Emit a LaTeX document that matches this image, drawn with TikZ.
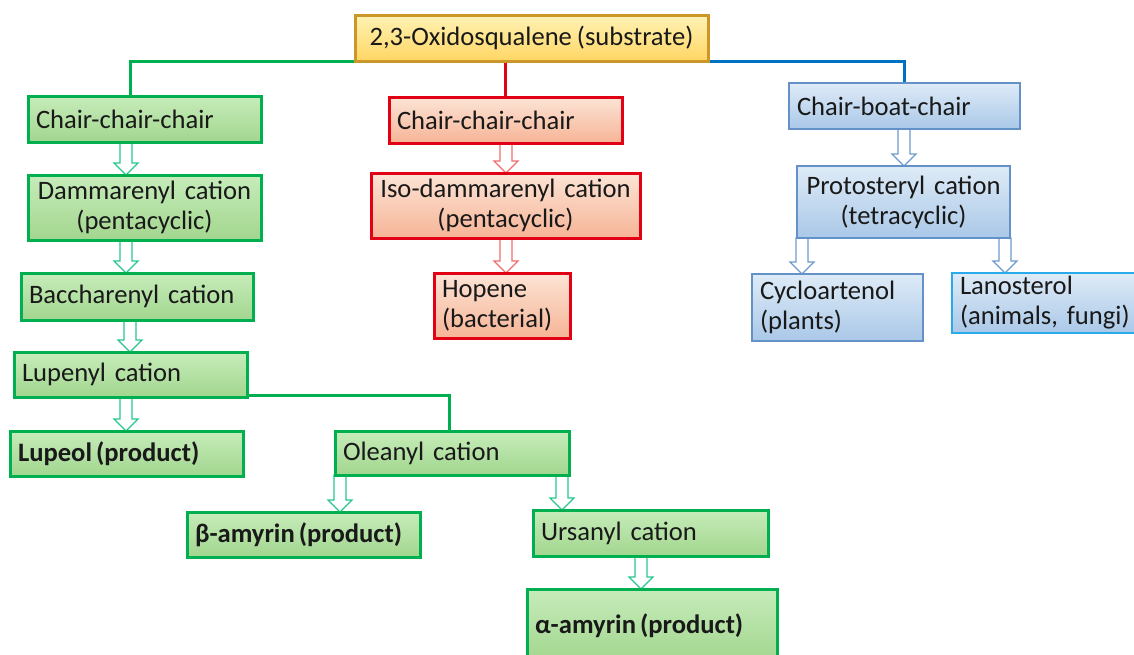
\documentclass[tikz,border=0pt]{standalone}
\usepackage{fontspec}
\setmainfont{Carlito}
\usetikzlibrary{calc,backgrounds}
\definecolor{gline}{RGB}{0,176,80}
\definecolor{gtop}{RGB}{198,236,186}
\definecolor{gbot}{RGB}{162,214,142}
\definecolor{garr}{RGB}{40,200,140}
\definecolor{rline}{RGB}{226,0,20}
\definecolor{rtop}{RGB}{252,228,214}
\definecolor{rbot}{RGB}{246,180,150}
\definecolor{rarr}{RGB}{240,110,110}
\definecolor{bline}{RGB}{0,112,192}
\definecolor{btop}{RGB}{222,235,247}
\definecolor{bbot}{RGB}{170,200,232}
\definecolor{bbord}{RGB}{100,145,200}
\definecolor{lbord}{RGB}{40,170,235}
\definecolor{barr}{RGB}{110,155,205}
\definecolor{ytop}{RGB}{255,242,180}
\definecolor{ybot}{RGB}{255,214,100}
\definecolor{ybord}{RGB}{205,150,40}
\definecolor{txt}{RGB}{25,25,25}
\newcommand\bx[8]{%
 \pgfmathsetmacro\bxw{#5-#3}\pgfmathsetmacro\bxh{#6-#4}\pgfmathsetmacro\bxt{#5-#3-16}%
 \node[#2, anchor=north west, minimum width=\bxw pt, minimum height=\bxh pt, text width=\bxt pt, align=#7] (#1) at (#3,#4) {#8};}
\newcommand\harr[4]{%
 \draw[#1, fill=white, line width=1.2pt, line join=miter] let \p1=(#3.south), \p2=(#4.north) in
 (#2-6,\y1) -- (#2+6,\y1) -- (#2+6,{\y2+12pt}) -- (#2+12,{\y2+12pt}) -- (#2,\y2) -- (#2-12,{\y2+12pt}) -- (#2-6,{\y2+12pt}) -- cycle;}
\tikzset{
 boxbase/.style={inner xsep=8pt, inner ysep=2pt, outer sep=0pt, text=txt},
 gbox/.style={boxbase, draw=gline, line width=3pt, top color=gtop, bottom color=gbot},
 rbox/.style={boxbase, draw=rline, line width=3pt, top color=rtop, bottom color=rbot},
 bbox/.style={boxbase, draw=bbord, line width=1.5pt, top color=btop, bottom color=bbot},
 lbox/.style={boxbase, draw=lbord, line width=1.2pt, top color=btop, bottom color=bbot},
 ybox/.style={boxbase, draw=ybord, line width=3pt, top color=ytop, bottom color=ybot},
 gconn/.style={gline, line width=3pt},
 rconn/.style={rline, line width=3pt},
 bconn/.style={bline, line width=3pt},
}
\begin{document}
\begin{tikzpicture}[x=1pt,y=-1pt,font=\fontsize{26.6}{30}\selectfont]
\useasboundingbox (0,0) rectangle (1134,654);
\clip (0,0) rectangle (1134,654);
\bx{sub}{ybox}{355}{15}{708}{61}{center}{2,3-Oxidosqualene\hspace{5pt}(substrate)}
% green
\bx{gccc}{gbox}{28}{96}{261}{142}{left}{Chair-chair-chair}
\bx{gdam}{gbox}{28}{175}{261}{240}{center}{Dammarenyl cation\\(pentacyclic)}
\bx{gbac}{gbox}{21}{273}{253}{320}{left}{Baccharenyl cation}
\bx{glup}{gbox}{14}{352}{247}{397}{left}{Lupenyl cation}
\bx{glupeol}{gbox}{10}{431}{243}{476}{left}{\bfseries Lupeol\hspace{4pt}(product)}
\bx{golea}{gbox}{335}{431}{569}{475}{left}{Oleanyl cation}
\bx{gbeta}{gbox}{187}{512}{420}{557}{left}{\bfseries β-amyrin\hspace{4pt}(product)}
\bx{gurs}{gbox}{533}{510}{768}{556}{left}{Ursanyl cation}
\bx{galpha}{gbox}{527}{589}{777}{662}{left}{\bfseries α-amyrin\hspace{4pt}(product)}
% red
\bx{rccc}{rbox}{389}{97}{622}{143}{left}{Chair-chair-chair}
\bx{riso}{rbox}{371}{173}{640}{238}{center}{Iso-dammarenyl cation\\(pentacyclic)}
\bx{rhop}{rbox}{434}{273}{570}{338}{left}{Hopene\\(bacterial)}
% blue
\bx{bcbc}{bbox}{789}{83}{1020}{129}{left}{Chair-boat-chair}
\bx{bpro}{bbox}{797}{166}{1010}{238}{center}{Protosteryl cation\\(tetracyclic)}
\bx{bcyc}{bbox}{752}{274}{923}{341}{left}{Cycloartenol\\(plants)}
\bx{blan}{lbox}{952}{273}{1150}{333}{left}{Lanosterol\\(animals, fungi)}
\begin{pgfonlayer}{background}
\fill[white] (0,0) rectangle (1134,654);
\draw[gconn] (sub.south west) -| ([xshift=-14pt]gccc.north);
\draw[rconn] (rccc.north |- sub.south) -- (rccc.north);
\draw[bconn] (sub.south east) -| (bcbc.north);
\draw[gconn] ([yshift=2pt]glup.south east) -| ([xshift=-3pt]golea.north);
\harr{garr}{126}{gccc}{gdam}
\harr{garr}{126}{gdam}{gbac}
\harr{garr}{130}{gbac}{glup}
\harr{garr}{126}{glup}{glupeol}
\harr{garr}{340}{golea}{gbeta}
\harr{garr}{562}{golea}{gurs}
\harr{garr}{641}{gurs}{galpha}
\harr{rarr}{506}{rccc}{riso}
\harr{rarr}{506}{riso}{rhop}
\harr{barr}{904}{bcbc}{bpro}
\harr{barr}{802}{bpro}{bcyc}
\harr{barr}{1005}{bpro}{blan}
\end{pgfonlayer}
\end{tikzpicture}
\end{document}
